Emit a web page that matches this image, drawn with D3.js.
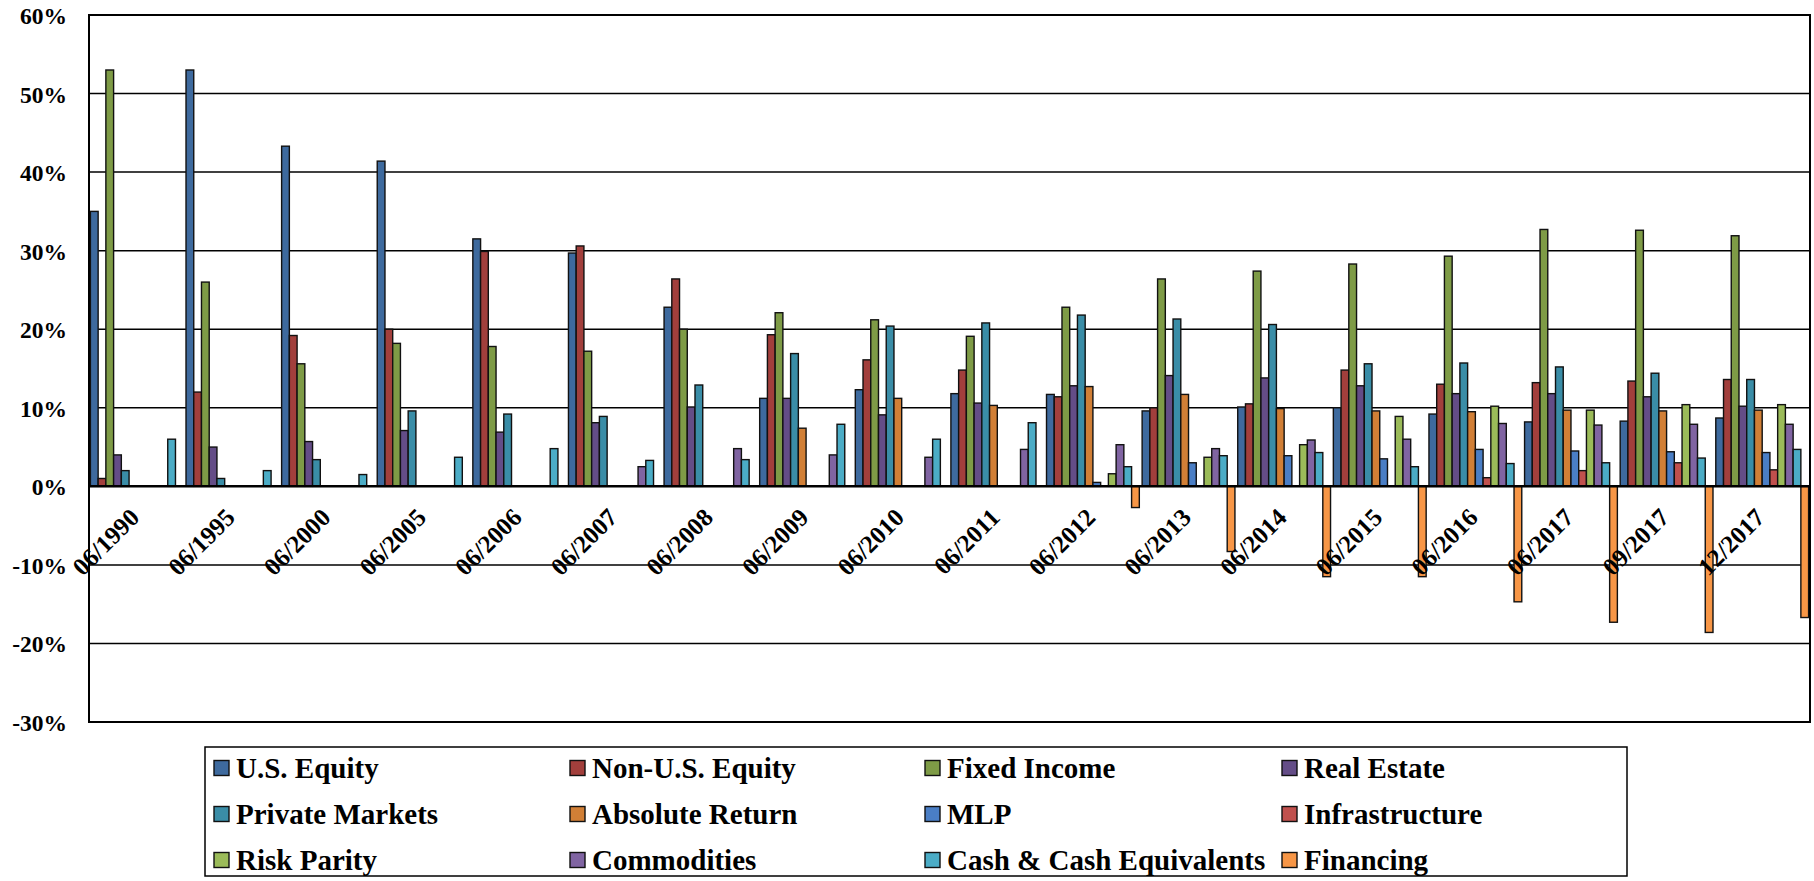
<!DOCTYPE html>
<html>
<head>
<meta charset="utf-8">
<script src="https://cdn.jsdelivr.net/npm/d3@7"></script>
<style>
  html, body { margin: 0; padding: 0; background: #fff; }
  svg { display: block; }
  text { font-family: "Liberation Serif", "Times New Roman", serif; font-weight: bold; fill: #000; }
</style>
</head>
<body>
<svg id="chart" width="1814" height="881"></svg>
<script>
// ---- Data ----
const categories = ["06/1990","06/1995","06/2000","06/2005","06/2006","06/2007","06/2008","06/2009","06/2010","06/2011","06/2012","06/2013","06/2014","06/2015","06/2016","06/2017","09/2017","12/2017"];
const seriesNames = ["U.S. Equity","Non-U.S. Equity","Fixed Income","Real Estate","Private Markets","Absolute Return","MLP","Infrastructure","Risk Parity","Commodities","Cash & Cash Equivalents","Financing"];
const seriesColors = ["#3E6A9E","#A23F3C","#7E9B46","#644D87","#3A8DA7","#D17F36","#4A7EC5","#C0504D","#9BBB59","#8064A2","#4BACC6","#F79646"];

const usEquity      = [35.0, 53.0, 43.3, 41.4, 31.5, 29.7, 22.8, 11.2, 12.3, 11.8, 11.7, 9.6, 10.1, 10.0, 9.2, 8.2, 8.3, 8.7];
const nonUsEquity   = [1.0, 12.0, 19.2, 20.0, 29.9, 30.6, 26.4, 19.3, 16.1, 14.8, 11.4, 10.0, 10.5, 14.8, 13.0, 13.2, 13.4, 13.6];
const fixedIncome   = [53.0, 26.0, 15.6, 18.2, 17.8, 17.2, 20.0, 22.1, 21.2, 19.1, 22.8, 26.4, 27.4, 28.3, 29.3, 32.7, 32.6, 31.9];
const realEstate    = [4.0, 5.0, 5.7, 7.1, 6.9, 8.1, 10.1, 11.2, 9.1, 10.6, 12.8, 14.1, 13.8, 12.8, 11.8, 11.8, 11.4, 10.2];
const privateMkts   = [2.0, 1.0, 3.4, 9.6, 9.2, 8.9, 12.9, 16.9, 20.4, 20.8, 21.8, 21.3, 20.6, 15.6, 15.7, 15.2, 14.4, 13.6];
const absoluteRet   = [0, 0, 0, 0, 0, 0, 0, 7.4, 11.2, 10.3, 12.7, 11.7, 9.9, 9.6, 9.5, 9.7, 9.6, 9.7];
const mlp           = [0, 0, 0, 0, 0, 0, 0, 0, 0, 0, 0.5, 3.0, 3.9, 3.5, 4.7, 4.5, 4.4, 4.3];
const infrastructure= [0, 0, 0, 0, 0, 0, 0, 0, 0, 0, 0, 0, 0, 0, 1.1, 2.0, 3.0, 2.1];
const riskParity    = [0, 0, 0, 0, 0, 0, 0, 0, 0, 0, 1.6, 3.7, 5.3, 8.9, 10.2, 9.7, 10.4, 10.4];
const commodities   = [0, 0, 0, 0, 0, 2.5, 4.8, 4.0, 3.7, 4.7, 5.3, 4.8, 5.9, 6.0, 8.0, 7.8, 7.9, 7.9];
const cash          = [6.0, 2.0, 1.5, 3.7, 4.8, 3.3, 3.4, 7.9, 6.0, 8.1, 2.5, 3.9, 4.3, 2.5, 2.9, 3.0, 3.6, 4.7];
const financing     = [0, 0, 0, 0, 0, 0, 0, 0, 0, 0, -2.7, -8.3, -11.5, -11.5, -14.7, -17.3, -18.6, -16.7];

const seriesValues = [usEquity, nonUsEquity, fixedIncome, realEstate, privateMkts, absoluteRet, mlp, infrastructure, riskParity, commodities, cash, financing];
const yTicks = [-30, -20, -10, 0, 10, 20, 30, 40, 50, 60];

// ---- Layout ----
const svg = d3.select("#chart");
const plot = { left: 89, right: 1810, top: 15, bottom: 722 };

const x0 = d3.scaleBand().domain(categories).range([plot.left, plot.right]).paddingInner(0).paddingOuter(0);
const x1 = d3.scaleBand().domain(seriesNames).range([1.4, x0.bandwidth() - 1.4]).padding(0);
const y = d3.scaleLinear().domain([-30, 60]).range([plot.bottom, plot.top]);

// Gridlines
const grid = svg.append("g").attr("class", "grid");
grid.selectAll("line").data(yTicks).join("line")
  .attr("x1", plot.left).attr("x2", plot.right)
  .attr("y1", d => y(d)).attr("y2", d => y(d))
  .attr("stroke", "#000").attr("stroke-width", 1.5);

// Y axis labels
const yAxis = d3.axisLeft(y).tickValues(yTicks).tickFormat(d => d + "%").tickSize(0).tickPadding(22);
const yg = svg.append("g").attr("transform", `translate(${plot.left},0)`).call(yAxis);
yg.select(".domain").remove();
yg.selectAll("text").style("font-size", "23.5px").attr("dy", "0.36em");

// Bars
const data = [];
categories.forEach((c, ci) => {
  seriesNames.forEach((s, si) => {
    data.push({ cat: c, series: s, si: si, value: seriesValues[si][ci] });
  });
});
svg.append("g").attr("class", "bars").selectAll("rect")
  .data(data.filter(d => d.value !== 0)).join("rect")
  .attr("x", d => x0(d.cat) + x1(d.series))
  .attr("width", x1.bandwidth())
  .attr("y", d => y(Math.max(0, d.value)))
  .attr("height", d => Math.abs(y(d.value) - y(0)))
  .attr("fill", d => seriesColors[d.si])
  .attr("stroke", "#111")
  .attr("stroke-width", 1.4);

// Zero line
svg.append("line")
  .attr("x1", plot.left).attr("x2", plot.right)
  .attr("y1", y(0)).attr("y2", y(0))
  .attr("stroke", "#000").attr("stroke-width", 2.5);

// Plot frame
svg.append("rect")
  .attr("x", plot.left).attr("y", plot.top)
  .attr("width", plot.right - plot.left).attr("height", plot.bottom - plot.top)
  .attr("fill", "none").attr("stroke", "#000").attr("stroke-width", 2);

// Category labels
svg.append("g").attr("class", "xlabels").selectAll("text")
  .data(categories).join("text")
  .attr("transform", d => `translate(${x0(d) + x0.bandwidth() / 2 + 4},${519}) rotate(-45)`)
  .attr("text-anchor", "end")
  .style("font-size", "25px")
  .text(d => d);

// Legend
const legend = { left: 205, right: 1627, top: 747, bottom: 876 };
svg.append("rect")
  .attr("x", legend.left).attr("y", legend.top)
  .attr("width", legend.right - legend.left).attr("height", legend.bottom - legend.top)
  .attr("fill", "#fff").attr("stroke", "#000").attr("stroke-width", 1.5);

const colX = [214, 570, 925, 1282];
const rowY = [768, 814, 860];
const lg = svg.append("g").attr("class", "legend");
const items = lg.selectAll("g").data(seriesNames).join("g")
  .attr("transform", (d, i) => `translate(${colX[i % 4]},${rowY[Math.floor(i / 4)]})`);
items.append("rect")
  .attr("x", 0).attr("y", -7.5).attr("width", 15).attr("height", 15)
  .attr("fill", (d, i) => seriesColors[i])
  .attr("stroke", "#111").attr("stroke-width", 1.4);
items.append("text")
  .attr("x", 22).attr("y", 0).attr("dy", "0.34em")
  .style("font-size", "29px")
  .text(d => d);
</script>
</body>
</html>
